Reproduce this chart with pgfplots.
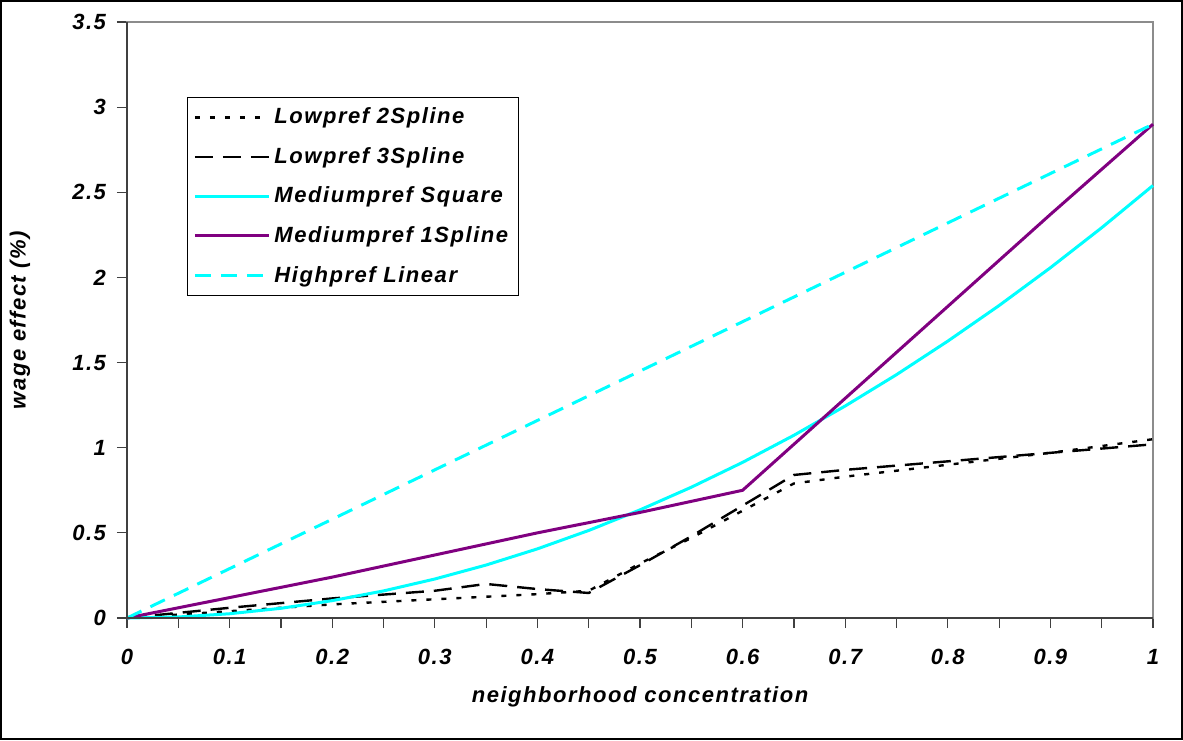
\documentclass[border=0pt]{standalone}
\usepackage{pgfplots}
\pgfplotsset{compat=1.18}
\usepackage{fontspec}
\setmainfont{Liberation Sans}[LetterSpace=7]
\definecolor{mycyan}{RGB}{0,255,255}
\definecolor{mypurple}{RGB}{128,0,128}
\definecolor{axdark}{RGB}{64,64,64}
\definecolor{axgray}{RGB}{140,140,140}
\begin{document}
\begin{tikzpicture}[x=1pt,y=1pt]
\begin{axis}[
  scale only axis,
  width=513pt, height=298pt,
  xmin=0, xmax=1, ymin=0, ymax=3.5,
  xtick={0,0.1,0.2,0.3,0.4,0.5,0.6,0.7,0.8,0.9,1},
  xticklabels={0,0.1,0.2,0.3,0.4,0.5,0.6,0.7,0.8,0.9,1},
  minor xtick={0.05,0.15,0.25,0.35,0.45,0.55,0.65,0.75,0.85,0.95},
  ytick={0,0.5,1,1.5,2,2.5,3,3.5},
  yticklabels={0,0.5,1,1.5,2,2.5,3,3.5},
  xtick pos=lower, ytick pos=left,
  tick align=outside,
  major tick length=5pt, minor tick length=5pt,
  every tick/.style={axdark, line width=0.6pt},
  every minor tick/.style={axdark, line width=0.6pt},
  axis line style={axgray, line width=1pt},
  tick label style={font=\bfseries\itshape\fontsize{11}{13}\selectfont},
  xticklabel style={yshift=-7pt},
  yticklabel style={xshift=-2pt},
  xlabel={neighborhood concentration},
  ylabel={wage effect (\%)},
  label style={font=\bfseries\itshape\fontsize{11}{13}\selectfont},
  xlabel style={at={(rel axis cs:0.5,0)}, anchor=center, yshift=-39.5pt},
  ylabel style={at={(rel axis cs:0,0.5)}, anchor=center, yshift=53.5pt},
  legend style={at={(rel axis cs:0,1)}, anchor=north west, xshift=30pt, yshift=-37.5pt,
    draw=black, line width=0.5pt, font=\bfseries\itshape\fontsize{11}{13}\selectfont,
    inner xsep=3pt, inner ysep=3.2pt, row sep=6.3pt},
  legend cell align=left,
  legend image code/.code={\draw[#1] (0pt,0pt) -- (37pt,0pt);},
  clip=false,
]
\addplot[black, line width=1.2pt, dash pattern=on 2.5pt off 5pt] coordinates {
(0,0) (0.1,0.04) (0.2,0.08) (0.3,0.11) (0.4,0.14) (0.45,0.16) (0.5,0.32) (0.55,0.47) (0.6,0.63) (0.65,0.79) (0.7,0.83) (0.8,0.9) (0.9,0.97) (1,1.05)};
\addlegendentry{Lowpref 2Spline}
\addplot[black, line width=1.2pt, dash pattern=on 9pt off 5pt] coordinates {
(0,0) (0.1,0.06) (0.2,0.115) (0.3,0.16) (0.35,0.2) (0.4,0.17) (0.45,0.147) (0.5,0.31) (0.55,0.48) (0.6,0.66) (0.65,0.84) (0.7,0.87) (0.8,0.92) (0.9,0.97) (1,1.02)};
\addlegendentry{Lowpref 3Spline}
\addplot[mycyan, line width=1.5pt] coordinates {
(0,0) (0.05,0.006) (0.1,0.025) (0.15,0.057) (0.2,0.102) (0.25,0.159) (0.3,0.229) (0.35,0.311) (0.4,0.406) (0.45,0.514) (0.5,0.635) (0.55,0.768) (0.6,0.914) (0.65,1.073) (0.7,1.245) (0.75,1.429) (0.8,1.626) (0.85,1.835) (0.9,2.057) (0.95,2.292) (1,2.54)};
\addlegendentry{Mediumpref Square}
\addplot[mypurple, line width=1.5pt] coordinates {
(0,0) (0.1,0.12) (0.2,0.24) (0.3,0.37) (0.4,0.5) (0.5,0.62) (0.6,0.75) (0.7,1.29) (0.8,1.83) (0.9,2.37) (1,2.9)};
\addlegendentry{Mediumpref 1Spline}
\addplot[mycyan, line width=1.5pt, dash pattern=on 8pt off 5pt] coordinates {
(0,0) (0.5,1.45) (1,2.9)};
\addlegendentry{Highpref Linear}
\draw[axdark, line width=1pt] (rel axis cs:0,1) -- (rel axis cs:0,0) -- (rel axis cs:1,0);
\end{axis}
\draw[black, line width=0.8pt] (-63.1pt,-60.6pt) rectangle (527.6pt,308.6pt);
\end{tikzpicture}
\end{document}
